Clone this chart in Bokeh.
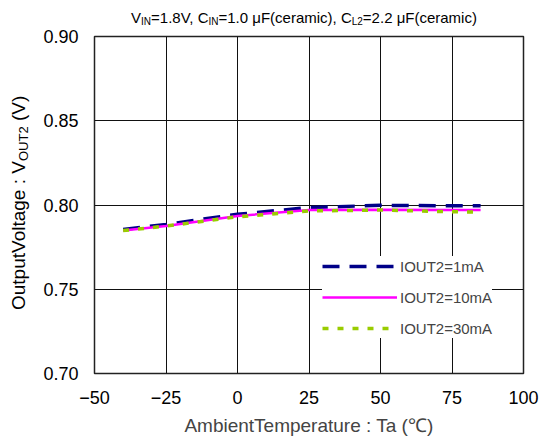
from bokeh.plotting import figure
from bokeh.layouts import column, row
from bokeh.models import FixedTicker, Range1d, Legend, LegendItem, PrintfTickFormatter, Div
from bokeh.embed import file_html
from bokeh.resources import INLINE

# ---- data ----
temps = [-40, -25, 0, 25, 50, 75, 85]
v_1mA = [0.7855, 0.7885, 0.7945, 0.7985, 0.7998, 0.7995, 0.7995]
v_10mA = [0.7848, 0.7875, 0.7935, 0.7970, 0.7972, 0.7970, 0.7970]
v_30mA = [0.7848, 0.7875, 0.7930, 0.7965, 0.7970, 0.7960, 0.7958]
series_names = ["IOUT2=1mA", "IOUT2=10mA", "IOUT2=30mA"]
x_ticks = [-50, -25, 0, 25, 50, 75, 100]
y_ticks = [0.70, 0.75, 0.80, 0.85, 0.90]
# title / y-label pieces: (text, is_subscript)
title_segs = [("V", False), ("IN", True), ("=1.8V, C", False), ("IN", True),
              ("=1.0 μF(ceramic), C", False), ("L2", True), ("=2.2 μF(ceramic)", False)]
ylab_segs = [("OutputVoltage : V", False), ("OUT2", True), (" (V)", False)]
xlab = "AmbientTemperature : Ta (\u2103)"

FONT = "Liberation Sans"

TOTAL_W, TOTAL_H = 541, 443
TITLE_H = 28
YLAB_W = 40
FW, FH = 429, 337
TOP_B = 8
LEFT_B = 53
MAIN_W = TOTAL_W - YLAB_W
MAIN_H = TOTAL_H - TITLE_H


def rich_html(segs, sub_size, sub_off):
    out = []
    for t, s in segs:
        if s:
            out.append('<span style="font-size:%dpx;position:relative;top:%.1fpx">%s</span>'
                       % (sub_size, sub_off, t))
        else:
            out.append(t)
    return "".join(out)


# ---- title strip ----
title_html = ('<div style="position:absolute;left:304px;top:10px;transform:translateX(-50%%);'
              'white-space:nowrap;font-family:\'%s\';font-size:15px;line-height:15px;color:black">%s</div>'
              % (FONT, rich_html(title_segs, 10, 2)))
tdiv = Div(text=title_html, width=TOTAL_W, height=TITLE_H, margin=0,
           styles={"overflow": "visible", "position": "relative"})

# ---- y label strip (rotated) ----
ylab_html = ('<div style="position:absolute;left:9px;top:282px;transform-origin:0 0;'
             'transform:rotate(-90deg);white-space:nowrap;font-family:\'%s\';font-size:19px;'
             'line-height:19px;color:black">%s</div>' % (FONT, rich_html(ylab_segs, 13, 2.5)))
ydiv = Div(text=ylab_html, width=YLAB_W, height=MAIN_H, margin=0,
           styles={"overflow": "visible", "position": "relative"})

# ---- main plot ----
p = figure(frame_width=FW, frame_height=FH, output_backend="svg", toolbar_location=None,
           x_range=Range1d(-50, 100), y_range=Range1d(0.70, 0.90),
           min_border_left=LEFT_B, min_border_top=TOP_B, min_border_right=MAIN_W - LEFT_B - FW,
           min_border_bottom=MAIN_H - FH - TOP_B)
p.background_fill_color = "white"
p.border_fill_color = "white"
p.outline_line_color = "#222222"
p.outline_line_width = 1.5

p.xaxis.ticker = FixedTicker(ticks=x_ticks)
p.yaxis.ticker = FixedTicker(ticks=y_ticks)
p.yaxis.formatter = PrintfTickFormatter(format="%.2f")
p.xaxis.major_label_overrides = {-50: "\u221250", -25: "\u221225"}
for ax in (p.xaxis, p.yaxis):
    ax.major_tick_in = 0
    ax.major_tick_out = 0
    ax.minor_tick_in = 0
    ax.minor_tick_out = 0
    ax.axis_line_color = None
    ax.major_label_text_font = FONT
    ax.major_label_text_font_size = "18px"
    ax.major_label_text_color = "black"
p.xaxis.major_label_standoff = 17
p.yaxis.major_label_standoff = 16
p.xaxis.axis_label = xlab
p.xaxis.axis_label_text_font = FONT
p.xaxis.axis_label_text_font_size = "19px"
p.xaxis.axis_label_text_font_style = "normal"
p.xaxis.axis_label_standoff = 8

p.grid.grid_line_color = "#111111"
p.grid.grid_line_width = 1

r1 = p.line(temps, v_1mA, line_color="#000088", line_width=3.5, line_dash="17 10")
r2 = p.line(temps, v_10mA, line_color="#FF00FF", line_width=2.5)
r3 = p.line(temps, v_30mA, line_color="#99CC00", line_width=3.5, line_dash="6 9")

legend = Legend(items=[LegendItem(label=series_names[0], renderers=[r1]),
                       LegendItem(label=series_names[1], renderers=[r2]),
                       LegendItem(label=series_names[2], renderers=[r3])],
                location=(228, 35))
legend.border_line_color = None
legend.background_fill_color = "white"
legend.background_fill_alpha = 1.0
legend.padding = 10
legend.margin = 0
legend.spacing = 11
legend.glyph_width = 75
legend.glyph_height = 20
legend.label_height = 20
legend.label_standoff = 3
legend.label_text_font = FONT
legend.label_text_font_size = "15px"
p.add_layout(legend, "center")

layout = column(tdiv, row(ydiv, p, spacing=0), spacing=0)
open("out.html", "w").write(file_html(layout, INLINE))
